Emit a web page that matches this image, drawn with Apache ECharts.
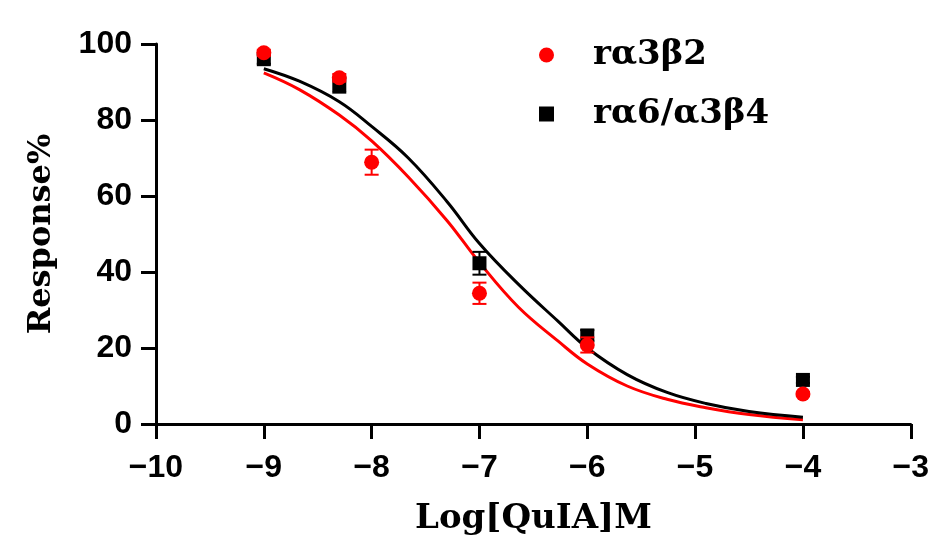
<!DOCTYPE html>
<html>
<head>
<meta charset="utf-8">
<script src="https://cdn.jsdelivr.net/npm/echarts@6/dist/echarts.min.js"></script>
<style>html,body{margin:0;padding:0;background:#fff;}#c{width:932px;height:550px;}</style>
</head>
<body>
<div id="c"></div>
<script>
// Measured points (mean ± SEM)
const xRed = [-9, -8.3, -8, -7, -6, -4];
const yRed = [97.7, 91.1, 68.9, 34.4, 20.8, 7.9];
const errRed = [0.8, 1.0, 3.3, 2.8, 2.0, 0.5];

const xBlack = [-9, -8.3, -7, -6, -4];
const yBlack = [96.0, 89.2, 42.3, 23.3, 11.6];
const errBlack = [1.2, 2.0, 3.0, 1.4, 0.8];

// Fitted curves
const fitX = [-9, -8.67, -8.3, -8, -7.66, -7.3, -7, -6.64, -6.27, -6, -5.63, -5.26, -4.9, -4.5, -4];
const fitRed = [92.4, 88.0, 81.3, 74.5, 65.0, 53.5, 42.5, 30.8, 21.8, 15.8, 10.0, 6.5, 4.3, 2.5, 1.1];
const fitBlack = [93.5, 90.2, 84.8, 78.3, 70.0, 58.5, 47.5, 36.8, 27.0, 20.0, 13.0, 8.3, 5.4, 3.3, 1.8];

const xTicks = [-10, -9, -8, -7, -6, -5, -4, -3];
const yTicks = [0, 20, 40, 60, 80, 100];

const nameRed = 'rα3β2';
const nameBlack = 'rα6/α3β4';
const xTitle = 'Log[QuIA]M';
const yTitle = 'Response%';

const RED = '#ff0000';
const BLACK = '#000000';

function pairs(xs, ys) { return xs.map((x, i) => [x, ys[i]]); }
function errData(xs, ys, es) { return xs.map((x, i) => [x, ys[i] - es[i], ys[i] + es[i]]); }

function errRender(color) {
  return function (params, api) {
    const x = api.value(0);
    const lo = api.coord([x, api.value(1)]);
    const hi = api.coord([x, api.value(2)]);
    const w = 7;
    const style = { stroke: color, lineWidth: 2 };
    return {
      type: 'group',
      children: [
        { type: 'line', shape: { x1: lo[0], y1: lo[1], x2: hi[0], y2: hi[1] }, style },
        { type: 'line', shape: { x1: lo[0] - w, y1: lo[1], x2: lo[0] + w, y2: lo[1] }, style },
        { type: 'line', shape: { x1: hi[0] - w, y1: hi[1], x2: hi[0] + w, y2: hi[1] }, style }
      ]
    };
  };
}

const chart = echarts.init(document.getElementById('c'), null, { renderer: 'canvas' });
const serif = 'DejaVu Serif';
const sans = 'Liberation Sans';

chart.setOption({
  backgroundColor: '#ffffff',
  animation: false,
  grid: { left: 156, right: 17, top: 44, bottom: 126, containLabel: false },
  legend: {
    orient: 'vertical',
    left: 534,
    top: 30,
    itemWidth: 15,
    itemHeight: 15,
    itemGap: 19,
    data: [
      { name: nameRed, icon: 'circle', itemStyle: { color: RED, opacity: 1 } },
      { name: nameBlack, icon: 'rect', itemStyle: { color: BLACK, opacity: 1 } }
    ],
    textStyle: {
      fontFamily: serif, fontWeight: 'bold', fontSize: 34, color: '#000', lineHeight: 40,
      padding: [0, 0, 0, 34]
    }
  },
  xAxis: {
    type: 'value',
    min: -10, max: -3, interval: 1,
    name: xTitle,
    nameLocation: 'middle',
    nameGap: 78,
    nameTextStyle: { fontFamily: serif, fontWeight: 'bold', fontSize: 34, color: '#000' },
    axisLine: { show: true, onZero: false, lineStyle: { color: '#000', width: 3 } },
    axisTick: { show: true, length: 15, lineStyle: { color: '#000', width: 3 } },
    axisLabel: {
      margin: 28, fontFamily: sans, fontWeight: 'bold', fontSize: 32, color: '#000',
      formatter: v => (v < 0 ? '\u2212' + Math.abs(v) : String(v))
    },
    splitLine: { show: false }
  },
  yAxis: {
    type: 'value',
    min: 0, max: 100, interval: 20,
    name: yTitle,
    nameLocation: 'middle',
    nameGap: 98,
    nameRotate: 90,
    nameTextStyle: { fontFamily: serif, fontWeight: 'bold', fontSize: 32, color: '#000' },
    axisLine: { show: true, onZero: false, lineStyle: { color: '#000', width: 3 } },
    axisTick: { show: true, length: 15, lineStyle: { color: '#000', width: 3 } },
    axisLabel: { margin: 24, fontFamily: sans, fontWeight: 'bold', fontSize: 32, color: '#000' },
    splitLine: { show: false }
  },
  series: [
    {
      name: 'fitRed', type: 'line', data: pairs(fitX, fitRed), smooth: 0.4,
      showSymbol: false, symbol: 'none', lineStyle: { color: RED, width: 3 }, z: 2, silent: true
    },
    {
      name: 'fitBlack', type: 'line', data: pairs(fitX, fitBlack), smooth: 0.4,
      showSymbol: false, symbol: 'none', lineStyle: { color: BLACK, width: 3 }, z: 2, silent: true
    },
    {
      name: 'errBlack', type: 'custom', renderItem: errRender(BLACK),
      data: errData(xBlack, yBlack, errBlack), encode: { x: 0, y: [1, 2] }, z: 3
    },
    {
      name: nameBlack, type: 'scatter', data: pairs(xBlack, yBlack),
      symbol: 'rect', symbolSize: 14, itemStyle: { color: BLACK, opacity: 1 }, z: 4
    },
    {
      name: 'errRed', type: 'custom', renderItem: errRender(RED),
      data: errData(xRed, yRed, errRed), encode: { x: 0, y: [1, 2] }, z: 5
    },
    {
      name: nameRed, type: 'scatter', data: pairs(xRed, yRed),
      symbol: 'circle', symbolSize: 15, itemStyle: { color: RED, opacity: 1 }, z: 6
    }
  ]
});
</script>
</body>
</html>
